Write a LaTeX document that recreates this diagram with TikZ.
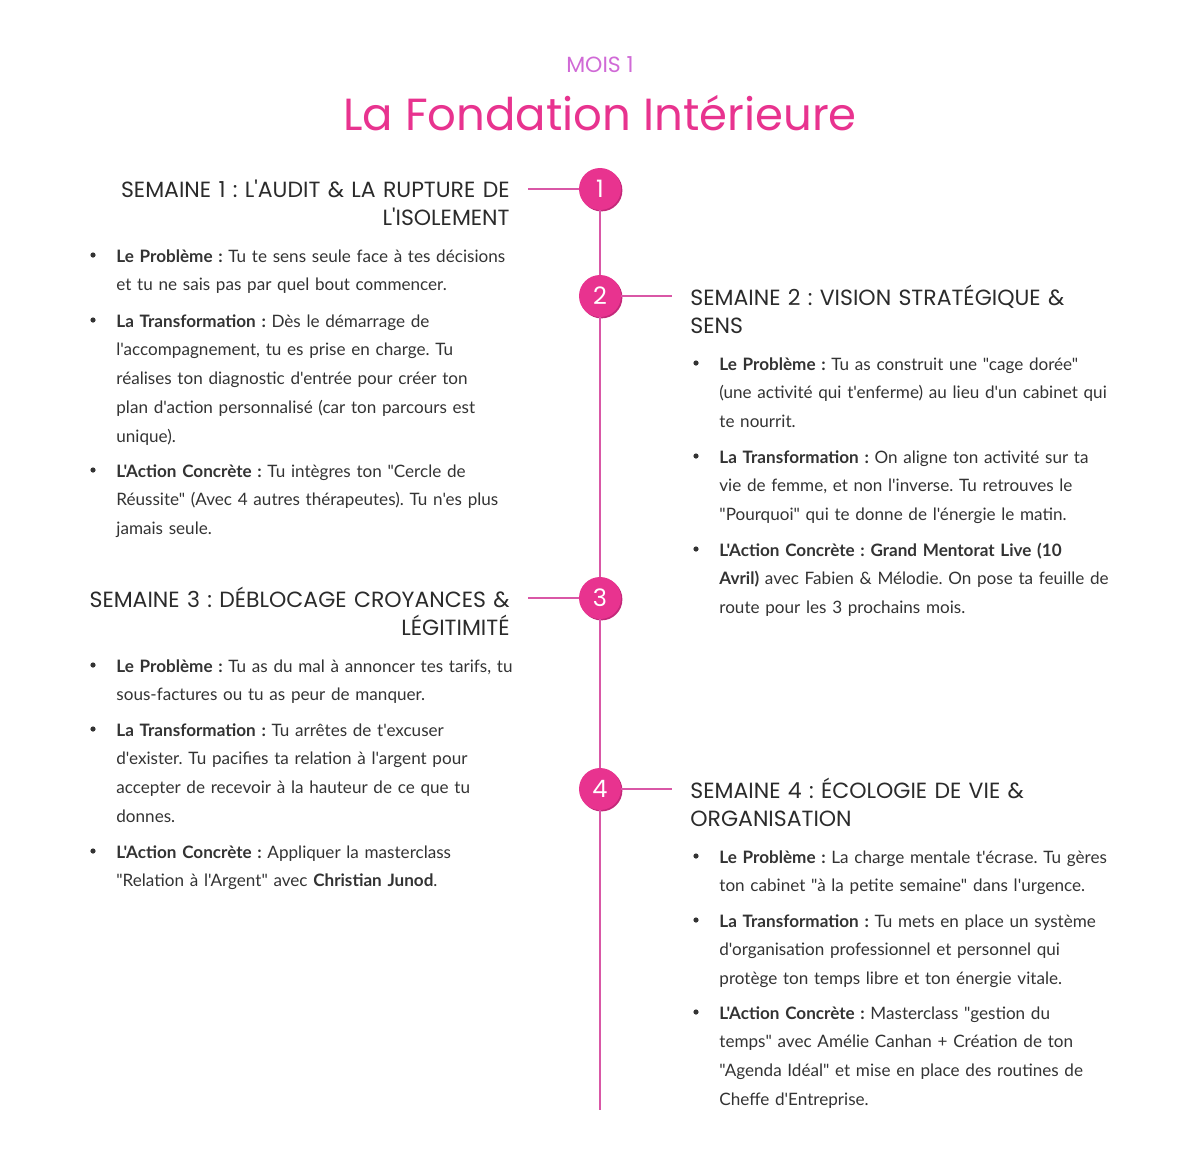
\documentclass[tikz,border=0pt]{standalone}
\usepackage{fontspec}
\usepackage{xcolor}
\usepackage{tikz}
\usetikzlibrary{positioning}
\newfontfamily\bodyfont{Lato}
\newfontfamily\headfont{Poppins}
\frenchspacing

\definecolor{pinkmain}{HTML}{E8338F}
\definecolor{pinkdark}{HTML}{C4287A}
\definecolor{pinkline}{HTML}{D957A6}
\definecolor{moisviolet}{HTML}{D06AD6}
\definecolor{headgray}{HTML}{2B2B2B}
\definecolor{bodygray}{HTML}{333333}

\begin{document}
\begin{tikzpicture}[
  x=0.5pt, y=0.5pt,
  head/.style={font=\headfont\fontsize{11}{14}\selectfont, text=headgray, inner sep=0pt, text width=240pt},
  item/.style={font=\bodyfont\fontsize{8.55}{14.4}\selectfont, text=bodygray, inner sep=0pt,
    text width=215pt, align=left, anchor=base west},
  bullet/.style={circle, fill=bodygray, inner sep=0pt, minimum size=2.6pt},
  weekdot/.style={circle, fill=pinkmain, inner sep=0pt, minimum size=21pt, text=white,
    font=\headfont\fontsize{12}{12}\selectfont,
    preaction={fill=pinkdark, transform canvas={shift={(0.7pt,-0.7pt)}}}},
  link/.style={draw=pinkline, line width=1pt},
]
\useasboundingbox (0,0) rectangle (1200,-1163);

%% Title
\node[inner sep=0pt, anchor=base, text=moisviolet, font=\headfont\fontsize{11}{12}\selectfont]
  (mois) at (600,-72) {MOIS 1};
\node[inner sep=0pt, anchor=base, text=pinkmain, font=\headfont\fontsize{22.5}{26}\selectfont]
  (title) at (600,-130) {La Fondation Intérieure};

%% Timeline
\coordinate (tlend) at (600,-1110);
\node[weekdot] (W1) at (600,-189) {1};
\node[weekdot] (W2) at (600,-296) {2};
\node[weekdot] (W3) at (600,-598) {3};
\node[weekdot] (W4) at (600,-789) {4};

\coordinate (L1) at (528,-189);
\coordinate (L2) at (672,-296);
\coordinate (L3) at (528,-598);
\coordinate (L4) at (672,-789);

\draw[link] (W1) -- (W2);
\draw[link] (W2) -- (W3);
\draw[link] (W3) -- (W4);
\draw[link] (W4) -- (tlend);
\draw[link] (W1) -- (L1);
\draw[link] (W2) -- (L2);
\draw[link] (W3) -- (L3);
\draw[link] (W4) -- (L4);

%% Semaine 1
\node[head, anchor=base east, align=right] (H1) at (510,-197)
  {SEMAINE 1 : L'AUDIT \& LA RUPTURE DE\\L'ISOLEMENT};
\node[bullet] (b11) at (93,-255) {};
\node[item] (i11) at (116,-262)
  {\textbf{Le Problème :} Tu te sens seule face à tes décisions\\
   et tu ne sais pas par quel bout commencer.};
\node[bullet] (b12) at (93,-320) {};
\node[item] (i12) at (116,-327)
  {\textbf{La Transformation :} Dès le démarrage de\\
   l'accompagnement, tu es prise en charge. Tu\\
   réalises ton diagnostic d'entrée pour créer ton\\
   plan d'action personnalisé (car ton parcours est\\
   unique).};
\node[bullet] (b13) at (93,-470) {};
\node[item] (i13) at (116,-477)
  {\textbf{L'Action Concrète :} Tu intègres ton "Cercle de\\
   Réussite" (Avec 4 autres thérapeutes). Tu n'es plus\\
   jamais seule.};

%% Semaine 2
\node[head, anchor=base west, align=left] (H2) at (690,-305)
  {SEMAINE 2 : VISION STRATÉGIQUE \&\\SENS};
\node[bullet] (b21) at (696,-363) {};
\node[item] (i21) at (719,-370)
  {\textbf{Le Problème :} Tu as construit une "cage dorée"\\
   (une activité qui t'enferme) au lieu d'un cabinet qui\\
   te nourrit.};
\node[bullet] (b22) at (696,-456) {};
\node[item] (i22) at (719,-463)
  {\textbf{La Transformation :} On aligne ton activité sur ta\\
   vie de femme, et non l'inverse. Tu retrouves le\\
   "Pourquoi" qui te donne de l'énergie le matin.};
\node[bullet] (b23) at (696,-549) {};
\node[item] (i23) at (719,-556)
  {\textbf{L'Action Concrète : Grand Mentorat Live (10}\\
   \textbf{Avril)} avec Fabien \& Mélodie. On pose ta feuille de\\
   route pour les 3 prochains mois.};

%% Semaine 3
\node[head, anchor=base east, align=right] (H3) at (510,-607)
  {SEMAINE 3 : DÉBLOCAGE CROYANCES \&\\LÉGITIMITÉ};
\node[bullet] (b31) at (93,-665) {};
\node[item] (i31) at (116,-672)
  {\textbf{Le Problème :} Tu as du mal à annoncer tes tarifs, tu\\
   sous-factures ou tu as peur de manquer.};
\node[bullet] (b32) at (93,-729) {};
\node[item] (i32) at (116,-736)
  {\textbf{La Transformation :} Tu arrêtes de t'excuser\\
   d'exister. Tu pacifies ta relation à l'argent pour\\
   accepter de recevoir à la hauteur de ce que tu\\
   donnes.};
\node[bullet] (b33) at (93,-851) {};
\node[item] (i33) at (116,-858)
  {\textbf{L'Action Concrète :} Appliquer la masterclass\\
   "Relation à l'Argent" avec \textbf{Christian Junod}.};

%% Semaine 4
\node[head, anchor=base west, align=left] (H4) at (690,-798)
  {SEMAINE 4 : ÉCOLOGIE DE VIE \&\\ORGANISATION};
\node[bullet] (b41) at (696,-856) {};
\node[item] (i41) at (719,-863)
  {\textbf{Le Problème :} La charge mentale t'écrase. Tu gères\\
   ton cabinet "à la petite semaine" dans l'urgence.};
\node[bullet] (b42) at (696,-920) {};
\node[item] (i42) at (719,-927)
  {\textbf{La Transformation :} Tu mets en place un système\\
   d'organisation professionnel et personnel qui\\
   protège ton temps libre et ton énergie vitale.};
\node[bullet] (b43) at (696,-1012) {};
\node[item] (i43) at (719,-1019)
  {\textbf{L'Action Concrète :} Masterclass "gestion du\\
   temps" avec Amélie Canhan + Création de ton\\
   "Agenda Idéal" et mise en place des routines de\\
   Cheffe d'Entreprise.};

\end{tikzpicture}
\end{document}
